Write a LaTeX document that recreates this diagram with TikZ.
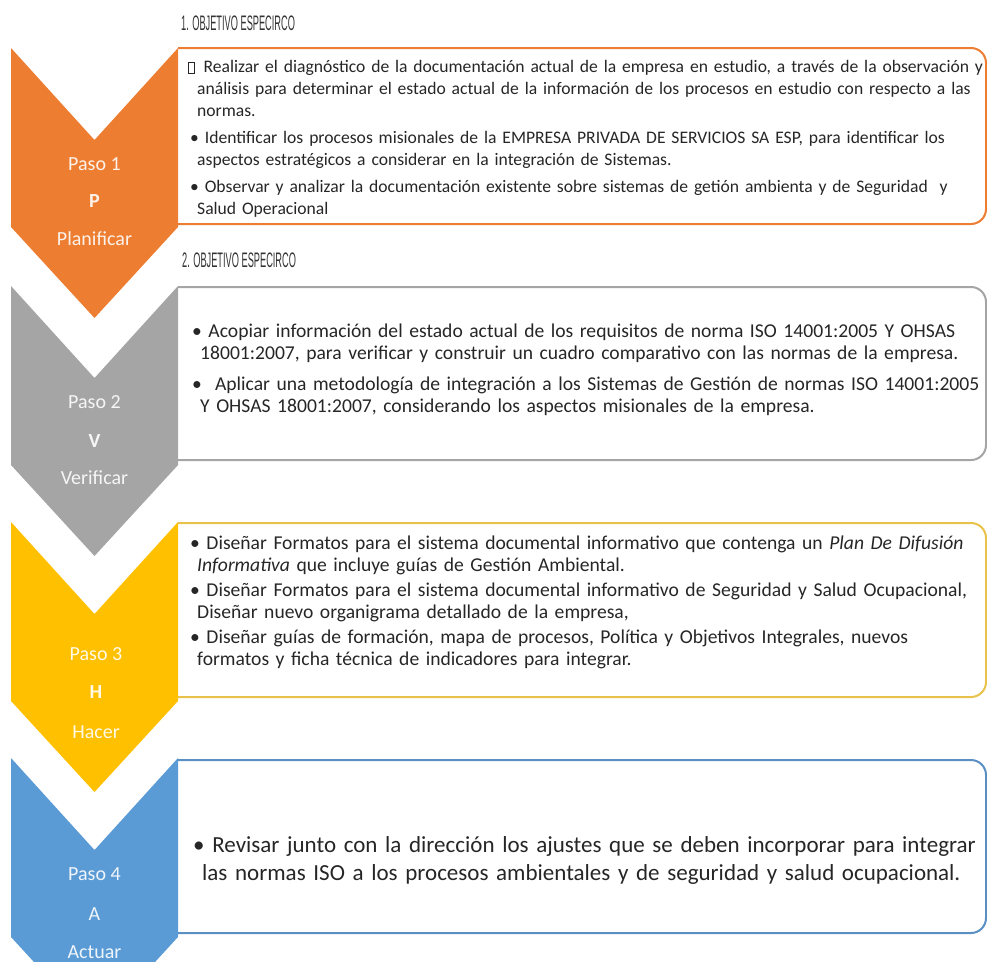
\documentclass[tikz,border=0pt]{standalone}
\usepackage{fontspec}
\setmainfont{Carlito}
\newfontfamily\headfont{Liberation Sans}
\usepackage{graphicx}
\definecolor{pOrange}{HTML}{ED7D31}
\definecolor{pGray}{HTML}{A5A5A5}
\definecolor{pYellow}{HTML}{FFC000}
\definecolor{pBlue}{HTML}{5B9BD5}
\definecolor{bYellow}{HTML}{E8C24A}
\definecolor{bBlue}{HTML}{5A8FC4}
\newcommand{\emptybox}{{\setlength{\fboxsep}{0pt}\setlength{\fboxrule}{0.7pt}\fbox{\rule{0pt}{10pt}\hspace{5pt}}}}
\tikzset{
  chevron/.style={fill=#1},
  stepbox/.style={draw=#1, line width=2pt, rounded corners=15pt},
  pasolabel/.style={anchor=base, inner sep=0pt, text=white!90!#1, font=\fontsize{20}{24}\selectfont},
  bodytext/.style={anchor=north west, inner sep=0pt, text width=830pt, align=left, text=black!85, font=\fontsize{19.6}{22}\selectfont},
  heading/.style={anchor=base west, inner sep=0pt, text=black!80, font=\headfont\fontsize{21}{21}\selectfont}
}
\begin{document}
\begin{tikzpicture}[x=1pt,y=1pt,yscale=-1,xscale=1]
\path[use as bounding box] (0,0) rectangle (987,961);

%Text Node: heading 1
\node[heading] (obj1) at (181,30) {\scalebox{0.44}[1]{1. OBJETIVO ESPECIRCO}};
%Text Node: heading 2
\node[heading] (obj2) at (182,267) {\scalebox{0.44}[1]{2. OBJETIVO ESPECIRCO}};

%Shape: Box Paso 1
\draw[stepbox=pOrange] (178,48) -- (986,48) -- (986,224) -- (178,224);
%Shape: Box Paso 2
\draw[stepbox=pGray] (178,287) -- (986,287) -- (986,460) -- (178,460);
%Shape: Box Paso 3
\draw[stepbox=bYellow] (178,523) -- (986,523) -- (986,697) -- (178,697);
%Shape: Box Paso 4
\draw[stepbox=bBlue] (178,760) -- (986,760) -- (986,933) -- (178,933);

%Shape: Chevron Paso 1
\fill[chevron=pOrange] (11,48) -- (94.5,140) -- (178,48) -- (178,227) -- (94.5,318) -- (11,227) -- cycle;
%Shape: Chevron Paso 2
\fill[chevron=pGray] (11,286) -- (94.5,378) -- (178,286) -- (178,465) -- (94.5,556) -- (11,465) -- cycle;
%Shape: Chevron Paso 3
\fill[chevron=pYellow] (11,522) -- (94.5,614) -- (178,522) -- (178,701) -- (94.5,792) -- (11,701) -- cycle;
%Shape: Chevron Paso 4
\fill[chevron=pBlue] (11,758) -- (94.5,850) -- (178,758) -- (178,937) -- (94.5,1028) -- (11,937) -- cycle;

%Text Node: labels Paso 1
\node[pasolabel=pOrange] (paso1) at (94.5,170) {Paso 1};
\node[pasolabel=pOrange] (letraP) at (94.5,207) {\textbf{P}};
\node[pasolabel=pOrange] (planificar) at (94.5,245) {Planificar};
%Text Node: labels Paso 2
\node[pasolabel=pGray] (paso2) at (94.5,408) {Paso 2};
\node[pasolabel=pGray] (letraV) at (94.5,447) {\textbf{V}};
\node[pasolabel=pGray] (verificar) at (94.5,484) {Verificar};
%Text Node: labels Paso 3
\node[pasolabel=pYellow] (paso3) at (96,660) {Paso 3};
\node[pasolabel=pYellow] (letraH) at (96,698) {\textbf{H}};
\node[pasolabel=pYellow] (hacer) at (96,738) {Hacer};
%Text Node: labels Paso 4
\node[pasolabel=pBlue] (paso4) at (94.5,880) {Paso 4};
\node[pasolabel=pBlue] (letraA) at (94.5,920) {A};
\node[pasolabel=pBlue] (actuar) at (94.5,958) {Actuar};

%Text Node: objetivos Paso 1
\node[bodytext, font=\fontsize{17.6}{22}\selectfont] (texto1) at (188,57) {\strut\emptybox\hspace{9pt}Realizar el diagnóstico de la documentación actual de la empresa en estudio, a través de la observación y\\
\hspace*{9pt}análisis para determinar el estado actual de la información de los procesos en estudio con respecto a las\\
\hspace*{9pt}normas.\\[5pt]
\hspace*{2pt}• Identificar los procesos misionales de la EMPRESA PRIVADA DE SERVICIOS SA ESP, para identificar los\\
\hspace*{9pt}aspectos estratégicos a considerar en la integración de Sistemas.\\[5pt]
\hspace*{2pt}• Observar y analizar la documentación existente sobre sistemas de getión ambienta y de Seguridad\ \ y\\
\hspace*{9pt}Salud Operacional};

%Text Node: objetivos Paso 2
\node[bodytext] (texto2) at (192,322) {\strut• Acopiar información del estado actual de los requisitos de norma ISO 14001:2005 Y OHSAS\\
\hspace*{8pt}18001:2007, para verificar y construir un cuadro comparativo con las normas de la empresa.\\[9pt]
•\ \ Aplicar una metodología de integración a los Sistemas de Gestión de normas ISO 14001:2005\\
\hspace*{8pt}Y OHSAS 18001:2007, considerando los aspectos misionales de la empresa.};

%Text Node: objetivos Paso 3
\node[bodytext] (texto3) at (190,534) {\strut• Diseñar Formatos para el sistema documental informativo que contenga un \textit{Plan De Difusión}\\
\hspace*{7pt}\textit{Informativa} que incluye guías de Gestión Ambiental.\\[3pt]
• Diseñar Formatos para el sistema documental informativo de Seguridad y Salud Ocupacional,\\
\hspace*{7pt}Diseñar nuevo organigrama detallado de la empresa,\\[3pt]
• Diseñar guías de formación, mapa de procesos, Política y Objetivos Integrales, nuevos\\
\hspace*{7pt}formatos y ficha técnica de indicadores para integrar.};

%Text Node: objetivo Paso 4
\node[bodytext, font=\fontsize{23}{28}\selectfont] (texto4) at (193,833) {\strut• Revisar junto con la dirección los ajustes que se deben incorporar para integrar\\
\hspace*{9pt}las normas ISO a los procesos ambientales y de seguridad y salud ocupacional.};

\end{tikzpicture}
\end{document}
